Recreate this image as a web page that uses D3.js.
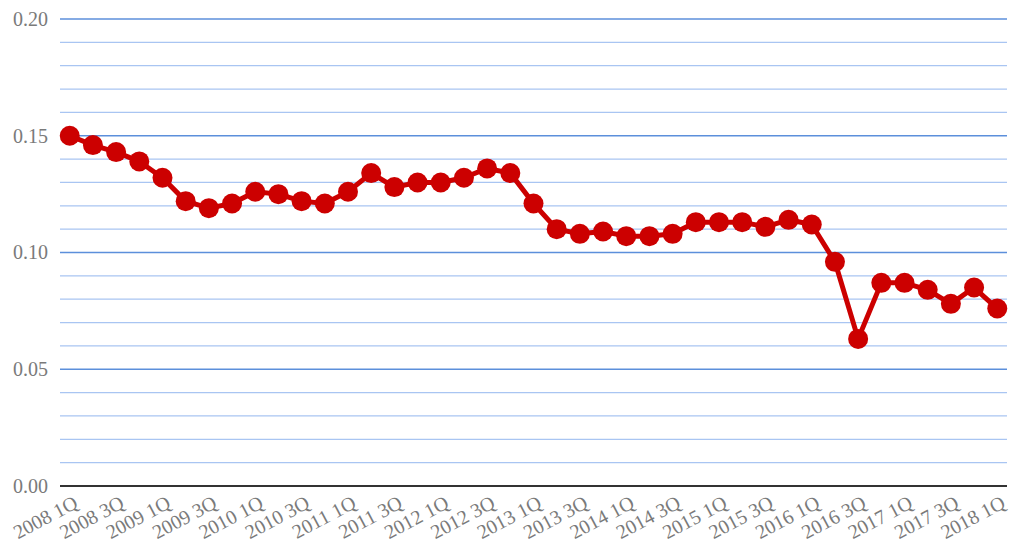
<!DOCTYPE html>
<html><head><meta charset="utf-8">
<script src="https://cdn.jsdelivr.net/npm/d3@7"></script>
<style>html,body{margin:0;padding:0;background:#fff;}svg{display:block;}</style>
</head><body>
<svg id="c" width="1013" height="554"></svg>
<script>
const quarters = [];
const years = [2008,2009,2010,2011,2012,2013,2014,2015,2016,2017,2018];
years.forEach(y => ["1Q","2Q","3Q","4Q"].forEach(q => quarters.push(y + " " + q)));
const categories = quarters.slice(0, 41);
const values = [0.150,0.146,0.143,0.139,0.132,0.122,0.119,0.121,0.126,0.125,0.122,0.121,
  0.126,0.134,0.128,0.130,0.130,0.132,0.136,0.134,0.121,0.110,0.108,0.109,0.107,0.107,
  0.108,0.113,0.113,0.113,0.111,0.114,0.112,0.096,0.063,0.087,0.087,0.084,0.078,0.085,0.076];
const yTicks = [0, 0.05, 0.10, 0.15, 0.20];
const minorTicks = d3.range(0, 21).map(i => i / 100);
const tickLabels = categories.filter((d, i) => i % 2 === 0);

const svg = d3.select("#c");
const mLeft = 60, mRight = 1007, mTop = 19, mBottom = 486;
const x = d3.scalePoint().domain(categories).range([mLeft, mRight]).padding(0.42);
const y = d3.scaleLinear().domain([0, 0.2]).range([mBottom, mTop]);

// minor grid
svg.append("g").selectAll("line").data(minorTicks.filter(t => Math.round(t*100) % 5 !== 0))
  .join("line").attr("x1", mLeft).attr("x2", mRight)
  .attr("y1", d => y(d)).attr("y2", d => y(d))
  .attr("stroke", "#a9c5f2").attr("stroke-width", 1.2);
// major grid
svg.append("g").selectAll("line").data(yTicks.filter(t => t > 0))
  .join("line").attr("x1", mLeft).attr("x2", mRight)
  .attr("y1", d => y(d)).attr("y2", d => y(d))
  .attr("stroke", "#5c8fdb").attr("stroke-width", 1.5);
// baseline
svg.append("line").attr("x1", mLeft).attr("x2", mRight)
  .attr("y1", y(0)).attr("y2", y(0)).attr("stroke", "#333").attr("stroke-width", 2);

// y axis labels
const yAxis = d3.axisLeft(y).tickValues(yTicks).tickFormat(d3.format(".2f")).tickSize(0).tickPadding(12);
const ga = svg.append("g").attr("transform", `translate(${mLeft},0)`).call(yAxis);
ga.select(".domain").remove();
ga.selectAll("text").style("font-family", "'Liberation Serif', serif").style("font-size", "20px").attr("fill", "#7a7a7a");

// x axis labels
const xAxis = d3.axisBottom(x).tickValues(tickLabels).tickSize(0).tickPadding(0);
const gx = svg.append("g").attr("transform", `translate(0,${mBottom})`).call(xAxis);
gx.select(".domain").remove();
gx.selectAll("text").style("font-family", "'Liberation Serif', serif").style("font-size", "20px")
  .attr("fill", "#7a7a7a").attr("text-anchor", "end").attr("dy", null).attr("y", 0)
  .attr("transform", "translate(9,21) rotate(-28)");

// line
const line = d3.line().x((d, i) => x(categories[i])).y(d => y(d));
svg.append("path").datum(values).attr("d", line).attr("fill", "none")
  .attr("stroke", "#cc0000").attr("stroke-width", 5).attr("stroke-linejoin", "round");
svg.append("g").selectAll("circle").data(values).join("circle")
  .attr("cx", (d, i) => x(categories[i])).attr("cy", d => y(d)).attr("r", 10)
  .attr("fill", "#cc0000");
</script>
</body></html>
